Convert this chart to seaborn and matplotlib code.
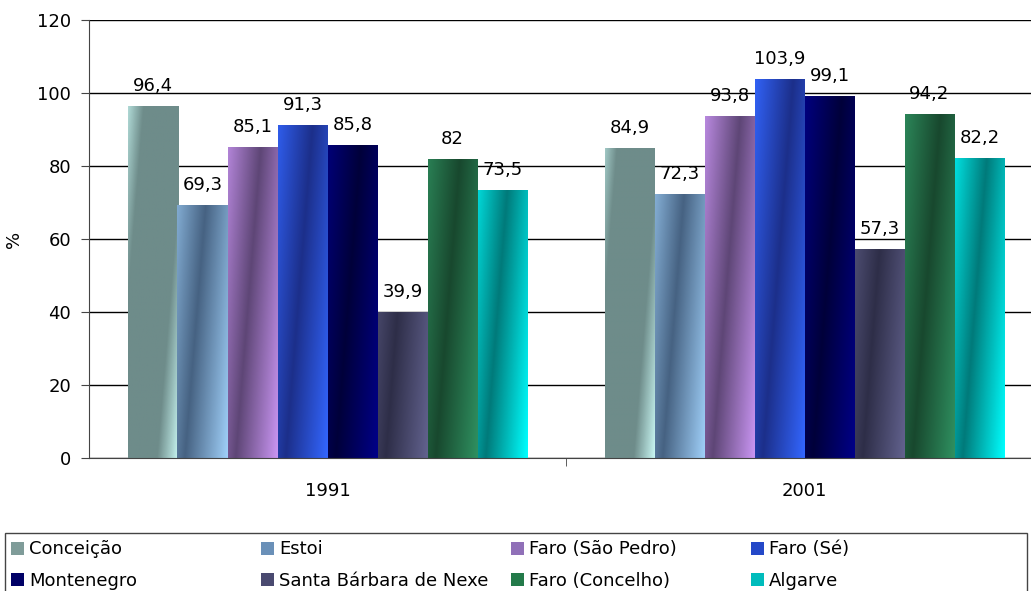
import numpy as np
import matplotlib
matplotlib.use('Agg')
import matplotlib.pyplot as plt
from matplotlib.colors import LinearSegmentedColormap
from matplotlib.patches import Patch, Rectangle
import seaborn as sns
import pandas as pd

anos = ['1991', '2001']
regioes = ['Conceição', 'Estoi', 'Faro (São Pedro)', 'Faro (Sé)',
           'Montenegro', 'Santa Bárbara de Nexe', 'Faro (Concelho)', 'Algarve']
v1991 = [96.4, 69.3, 85.1, 91.3, 85.8, 39.9, 82, 73.5]
v2001 = [84.9, 72.3, 93.8, 103.9, 99.1, 57.3, 94.2, 82.2]

# (claro, escuro) for the gradient fills, plus a mid colour for the legend
claros = ['#c8f6f2', '#9fcff8', '#c995f2', '#3366ff', '#000088', '#62628e', '#2f9060', '#00ffff']
escuros = ['#6e8c8a', '#466282', '#5e4676', '#1c2f8a', '#00003a', '#2e2e48', '#18482e', '#007a7a']
medios = ['#7f9c99', '#6a90b8', '#9070b8', '#2448c8', '#000066', '#4a4a70', '#237a4a', '#00bcbc']

fonte = 13
df = pd.DataFrame({
    'ano': np.repeat(anos, len(regioes)),
    'regiao': regioes * len(anos),
    'valor': v1991 + v2001,
})

fig = plt.figure(figsize=(10.31, 5.91), dpi=100)
ax = fig.add_axes([89 / 1031, 1 - 458 / 591, (1031 - 89) / 1031, (458 - 20) / 591])

sns.barplot(data=df, x='ano', y='valor', hue='regiao', hue_order=regioes,
            palette=medios, width=400 / 477, gap=0, legend=False, ax=ax,
            saturation=1, edgecolor='none', linewidth=0)

ax.set_yticks(np.arange(0, 121, 20))
ax.yaxis.grid(True, color='black', linewidth=1)
ax.set_axisbelow(True)

# diagonal gradient fills clipped to each bar (light -> dark -> light)
ny, nx = 300, 60
for i, (cont, c1, c2) in enumerate(zip(ax.containers, claros, escuros)):
    if i == 0:
        cmap = LinearSegmentedColormap.from_list('g', [c1, c2, c2, c2, c1])
    else:
        cmap = LinearSegmentedColormap.from_list('g', [c1, c2, c1])
    for bar in cont:
        x0, y0 = bar.get_x(), bar.get_y()
        w, h = bar.get_width(), bar.get_height()
        yv = np.linspace(y0, y0 + h, ny)[:, None]
        xf = np.linspace(0, 1, nx)[None, :]
        t = xf - 0.006 * yv
        im = ax.imshow(t, cmap=cmap, vmin=-0.7, vmax=1.0, aspect='auto',
                       extent=(x0, x0 + w, y0, y0 + h), origin='lower',
                       interpolation='bilinear', zorder=bar.get_zorder() + 0.1)
        im.set_clip_path(bar)
    ax.bar_label(cont, labels=[f'{b.get_height():g}'.replace('.', ',') for b in cont],
                 padding=8, fontsize=fonte)
ax.set_xlim(-0.5, -0.5 + (1031 - 89) / 477)
ax.set_ylim(0, 120)

for s in ['top', 'right']:
    ax.spines[s].set_visible(False)
ax.spines['left'].set_color('#444444')
ax.spines['bottom'].set_color('#444444')
ax.tick_params(axis='y', labelsize=fonte, length=6, pad=7, direction='out', color='#444444')
ax.set_xticks([0.5], minor=True)
ax.tick_params(axis='x', which='minor', length=6, color='#444444')
ax.tick_params(axis='x', which='major', length=0, pad=17, labelsize=fonte)
ax.set_xlabel('')
ax.set_ylabel('%', fontsize=fonte, labelpad=10)

# legend: 4 columns, filled row by row, inside one frame
fig.patches.append(Rectangle((5 / 1031, -0.01), 1022 / 1031, 58 / 591 + 0.01,
                             transform=fig.transFigure, fill=False,
                             edgecolor='#444444', linewidth=1))
col_x = [11, 261, 511, 751]
for j, cx in enumerate(col_x):
    idx = [j, j + 4]
    hs = [Patch(facecolor=medios[k], edgecolor='none') for k in idx]
    fig.legend(hs, [regioes[k] for k in idx], loc='center left',
               bbox_to_anchor=(cx / 1031, 1 - 565 / 591), frameon=False,
               fontsize=fonte, handlelength=0.7, handleheight=0.7,
               handletextpad=0.3, borderpad=0, borderaxespad=0,
               labelspacing=0.72)

fig.savefig('out.png', dpi=100)
